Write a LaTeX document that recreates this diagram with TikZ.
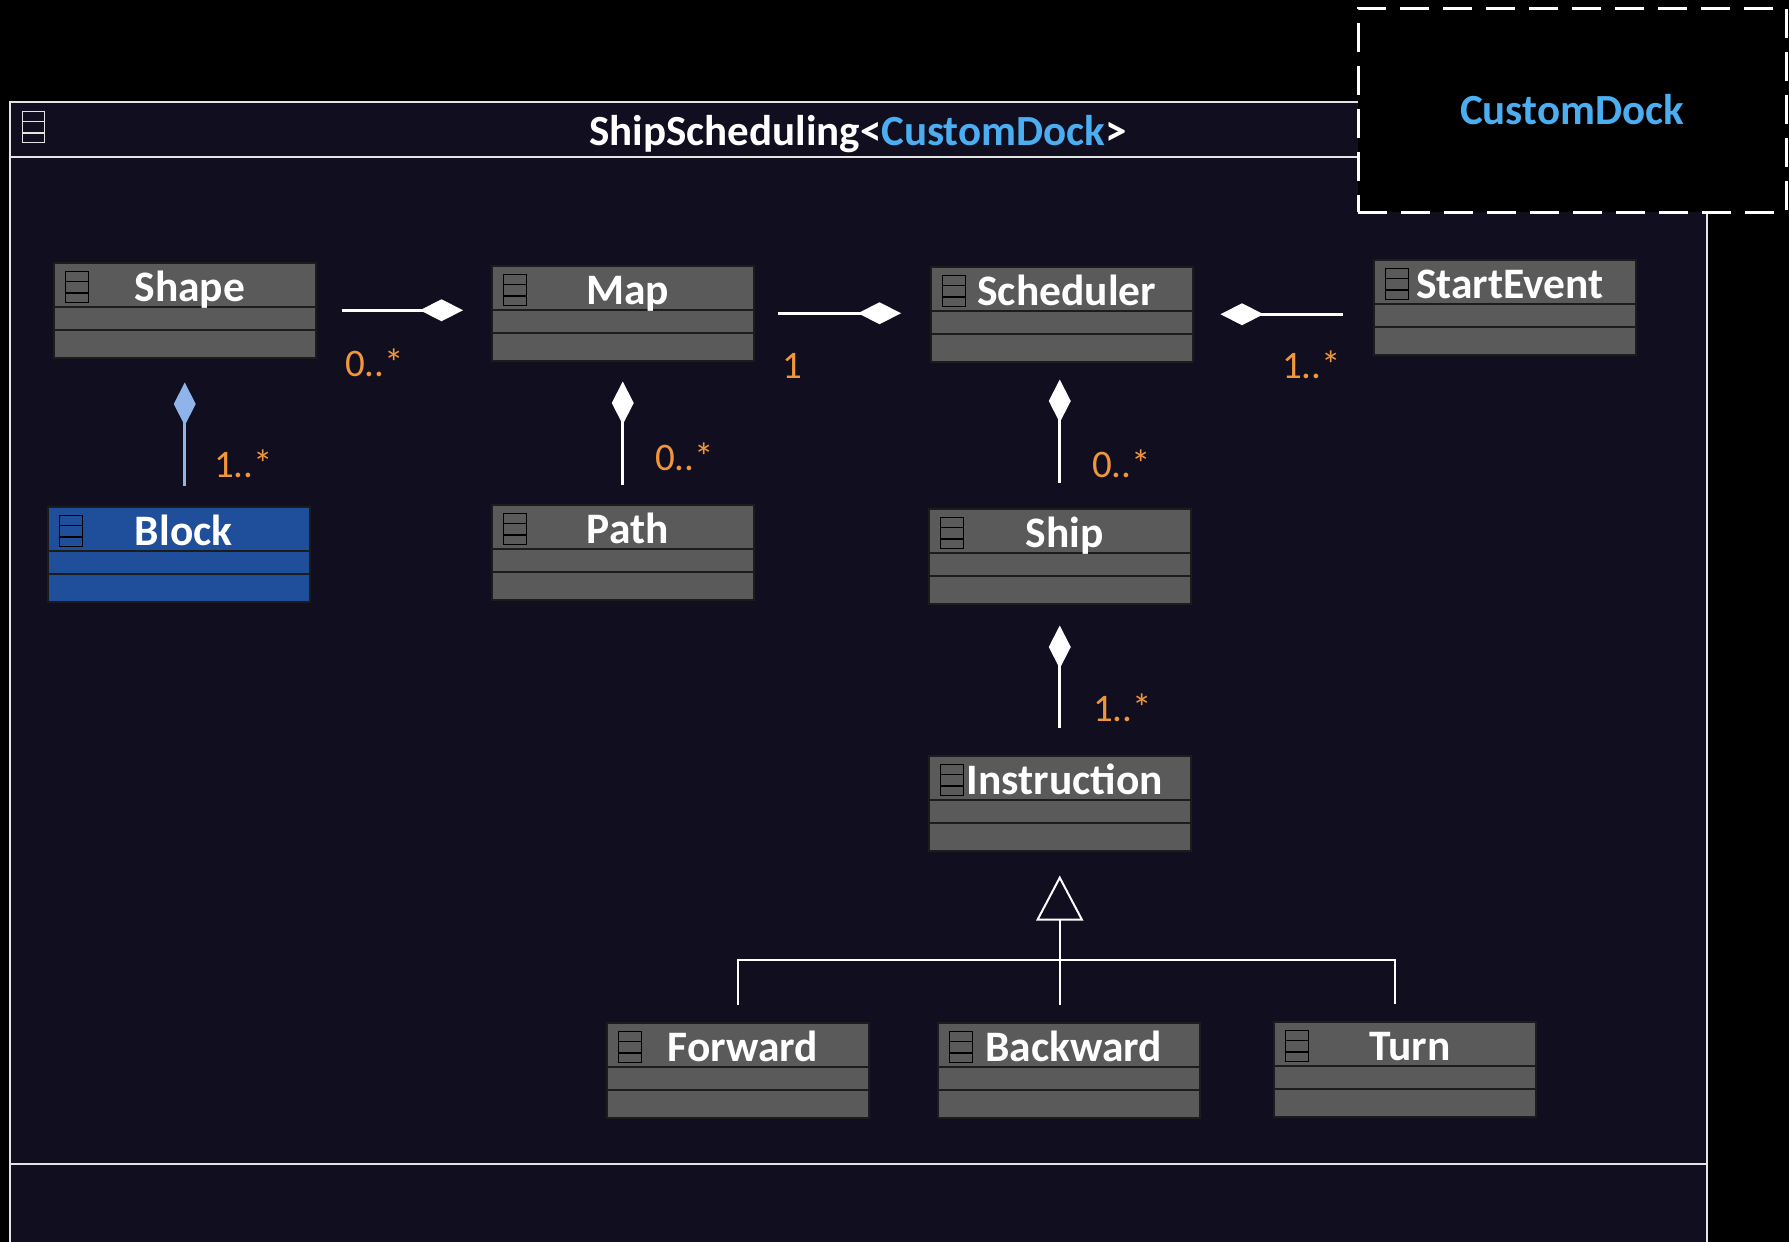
\documentclass[tikz,border=0pt]{standalone}
\usepackage{fontspec}
\setmainfont{Carlito}
\usetikzlibrary{arrows.meta}
\definecolor{bgnavy}{HTML}{110E1F}
\definecolor{frameline}{HTML}{E4E4E4}
\definecolor{classgray}{HTML}{5A5A5A}
\definecolor{classborder}{HTML}{1C1C1C}
\definecolor{blockblue}{HTML}{1F4E9A}
\definecolor{lightblue}{HTML}{8FB4EA}
\definecolor{multorange}{HTML}{F0963C}
\definecolor{dockblue}{HTML}{4AAEF0}
\tikzset{
  classbox/.style={draw=classborder, line width=1.5pt, minimum width=262pt, minimum height=95pt, inner sep=0pt},
  compline/.style={draw=classborder, line width=1.8pt},
  classicon/.style={draw=black, line width=1.4pt, minimum width=23pt, minimum height=31pt, inner sep=0pt},
  iconline/.style={draw=black, line width=1.4pt},
  classname/.style={text=white, font=\fontsize{43.5}{50}\selectfont\bfseries, inner sep=0pt},
  multlabel/.style={text=multorange, font=\fontsize{39}{46}\selectfont, inner sep=0pt, anchor=base west},
  framestroke/.style={draw=frameline, line width=2pt},
  comp/.style={draw=white, line width=3pt, -{Diamond[length=43pt, width=22pt]}},
  compblue/.style={draw=lightblue, line width=3pt, -{Diamond[length=43pt, width=22pt]}},
  genline/.style={draw=white, line width=2pt},
  dashbox/.style={draw=white, fill=black, line width=3pt, dash pattern=on 29pt off 14pt, minimum width=428pt, minimum height=204pt, inner sep=0pt, text=dockblue, font=\fontsize{43}{50}\selectfont\bfseries},
}
\newcommand\umlclass[5][classgray]{%
  \node[classbox, fill=#1, anchor=north west] (#2) at (#3,#4) {};
  \draw[compline] ([yshift=-45pt]#2.north west) -- ([yshift=-45pt]#2.north east);
  \draw[compline] ([yshift=-68pt]#2.north west) -- ([yshift=-68pt]#2.north east);
  \node[classicon, anchor=north west] (#2-icon) at ([xshift=12pt,yshift=-9pt]#2.north west) {};
  \draw[iconline] ([yshift=-10.33pt]#2-icon.north west) -- ([yshift=-10.33pt]#2-icon.north east);
  \draw[iconline] ([yshift=10.33pt]#2-icon.south west) -- ([yshift=10.33pt]#2-icon.south east);
  \node[classname, anchor=base] (#2-name) at ([xshift=5pt,yshift=-39pt]#2.north) {#5};
}
\begin{document}
\begin{tikzpicture}[x=1pt, y=-1pt]
\useasboundingbox (0,0) rectangle (1789,1242);
\fill[black] (0,0) rectangle (1789,1242);
% frame
\fill[bgnavy] (10,102) rectangle (1707,1242);
\draw[framestroke] (10,1242) -- (10,102) -- (1358,102);
\draw[framestroke] (10,157) -- (1358,157);
\draw[framestroke] (1707,212) -- (1707,1242);
\draw[framestroke] (10,1164) -- (1707,1164);
\node[draw=frameline, line width=1.4pt, minimum width=22pt, minimum height=31pt, inner sep=0pt, anchor=north west] (frameicon) at (22,111) {};
\draw[draw=frameline, line width=1.4pt] ([yshift=-10.33pt]frameicon.north west) -- ([yshift=-10.33pt]frameicon.north east);
\draw[draw=frameline, line width=1.4pt] ([yshift=10.33pt]frameicon.south west) -- ([yshift=10.33pt]frameicon.south east);
\node[text=white, font=\fontsize{43}{50}\selectfont\bfseries, inner sep=0pt, anchor=base] (title) at (858,145) {ShipScheduling<\textcolor{dockblue}{CustomDock}>};
% template parameter box
\node[dashbox] (dock) at (1572,110) {CustomDock};
% classes
\umlclass{Shape}{53}{262}{Shape}
\umlclass{Map}{491}{265}{Map}
\umlclass{Scheduler}{930}{266}{Scheduler}
\umlclass{StartEvent}{1373}{259}{StartEvent}
\umlclass[blockblue]{Block}{47}{506}{Block}
\umlclass{Path}{491}{504}{Path}
\umlclass{Ship}{928}{508}{Ship}
\umlclass{Instruction}{928}{755}{Instruction}
\umlclass{Forward}{606}{1022}{Forward}
\umlclass{Backward}{937}{1022}{Backward}
\umlclass{Turn}{1273}{1021}{Turn}
% compositions
\draw[comp] ([xshift=25pt]Shape.east) -- ([xshift=-28pt]Map.west |- Shape.east);
\draw[comp] ([xshift=23pt]Map.east) -- ([xshift=-29pt]Scheduler.west |- Map.east);
\draw[comp] ([xshift=-30pt]StartEvent.west |- Scheduler.east) -- ([xshift=27pt]Scheduler.east);
\draw[compblue] ([yshift=20pt]Shape.south |- Block.north) -- ([yshift=-24pt]Shape.south);
\draw[comp] ([yshift=19pt]Map.south |- Path.north) -- ([yshift=-20pt]Map.south);
\draw[comp] ([yshift=25pt]Ship.north) -- ([yshift=-17pt]Ship.north |- Scheduler.south);
\draw[comp] ([yshift=27pt]Instruction.north) -- ([yshift=-21pt]Ship.south);
% multiplicities
\node[multlabel] (m1) at (345,376) {0..*};
\node[multlabel] (m2) at (782,378) {1};
\node[multlabel] (m3) at (1282,378) {1..*};
\node[multlabel] (m4) at (214,477) {1..*};
\node[multlabel] (m5) at (655,470) {0..*};
\node[multlabel] (m6) at (1092,477) {0..*};
\node[multlabel] (m7) at (1093,721) {1..*};
% generalization
\coordinate (gjoin) at (1061,960);
\draw[genline] ([yshift=17pt]Forward.north) |- (gjoin) -| ([xshift=-10pt,yshift=17pt]Turn.north);
\draw[genline, -{Triangle[open, length=45pt, width=47pt]}] ([yshift=17pt]Instruction.south |- Backward.north) -- ([yshift=-24pt]Instruction.south);
\end{tikzpicture}
\end{document}
